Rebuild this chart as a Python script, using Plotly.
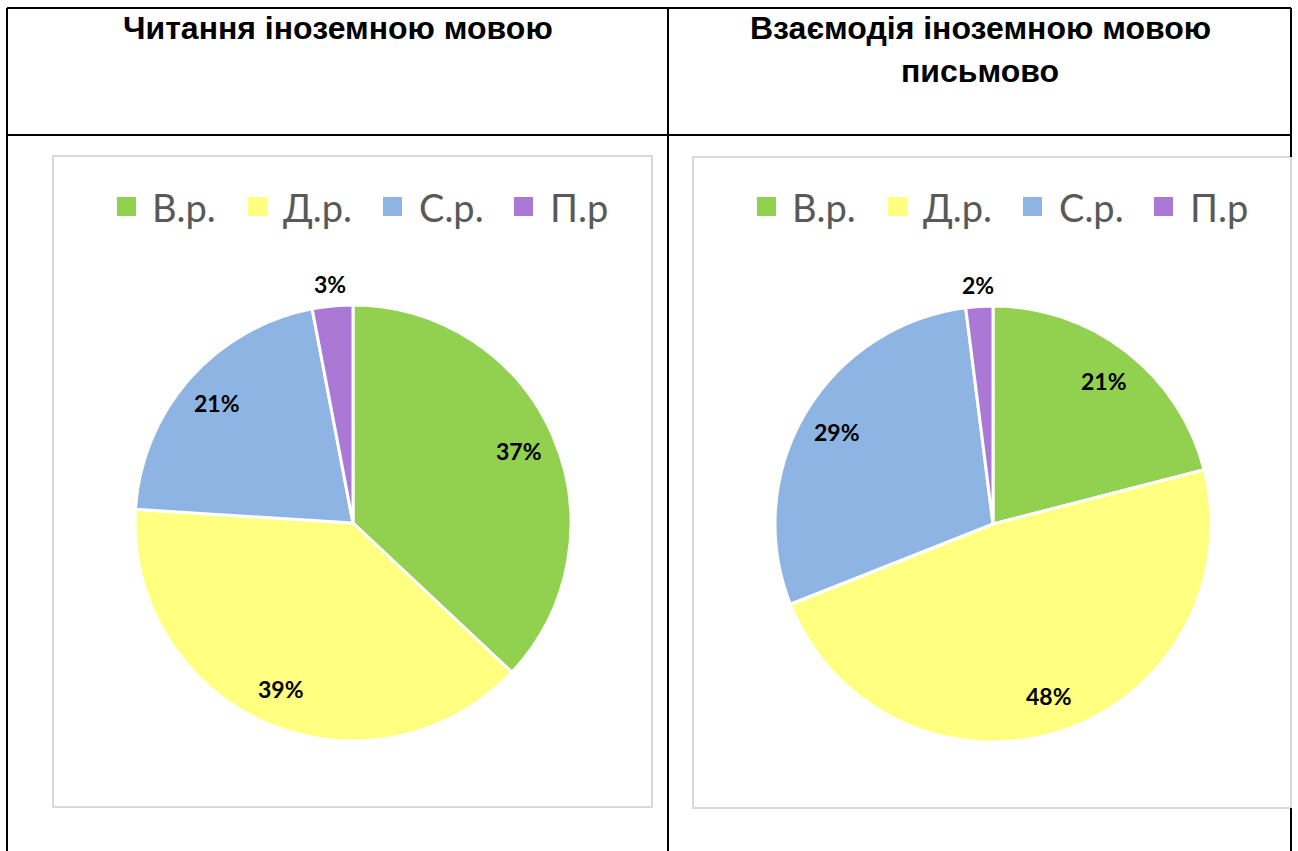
import math
import plotly.graph_objects as go

# ---- data ----
categories = ["В.р.", "Д.р.", "С.р.", "П.р"]
reading_values = [37, 39, 21, 3]
writing_values = [21, 48, 29, 2]
titles = [["Читання іноземною мовою"], ["Взаємодія іноземною мовою", "письмово"]]
colors = ["#92D050", "#FFFF80", "#8EB4E3", "#AB78D6"]

W, H = 1298, 851


def px(x):
    return x / W


def py(y):
    return 1 - y / H


fig = go.Figure()
shapes = []
annotations = []

# ---- table grid ----
line_black = dict(color="black", width=2)
for (x0, y0, x1, y1) in [(7, 8, 1291, 8), (7, 135, 1291, 135), (7, 8, 7, 851),
                         (668, 8, 668, 851), (1291, 8, 1291, 157), (1291, 808, 1291, 851)]:
    shapes.append(dict(type="line", xref="paper", yref="paper", x0=px(x0), y0=py(y0),
                       x1=px(x1), y1=py(y1), line=line_black, layer="above"))

# ---- chart panels ----
panels = [
    dict(box=(53, 156, 652, 807), center=(353, 523), r=218, title_x=338,
         legend_sq=[117, 248, 383, 514], legend_tx=[150, 281, 417, 548], values=reading_values),
    dict(box=(693, 157, 1291, 808), center=(993, 524), r=218, title_x=980,
         legend_sq=[757, 888, 1023, 1154], legend_tx=[790, 921, 1057, 1188], values=writing_values),
]

for i, p in enumerate(panels):
    x0, y0, x1, y1 = p["box"]
    shapes.append(dict(type="rect", xref="paper", yref="paper", x0=px(x0), y0=py(y0),
                       x1=px(x1), y1=py(y1), line=dict(color="#D9D9D9", width=2),
                       fillcolor="rgba(0,0,0,0)", layer="below"))
    # titles
    for j, t in enumerate(titles[i]):
        annotations.append(dict(text=f"<b>{t}</b>", xref="paper", yref="paper",
                                x=px(p["title_x"]), y=py(28 + 43 * j), xanchor="center",
                                yanchor="middle", showarrow=False,
                                font=dict(family="Liberation Sans, Arial", size=32, color="black")))
    # pie
    cx, cy, r = p["center"][0], p["center"][1], p["r"]
    fig.add_trace(go.Pie(
        labels=categories, values=p["values"], sort=False, direction="clockwise",
        rotation=0, textinfo="none", hoverinfo="label+percent",
        marker=dict(colors=colors, line=dict(color="white", width=3)),
        domain=dict(x=[px(cx - r), px(cx + r)], y=[py(cy + r), py(cy - r)]),
        showlegend=False,
    ))
    # data labels, placed along each slice's mid-angle
    total = sum(p["values"])
    cum = 0
    for v in p["values"]:
        frac = (cum + v / 2) / total
        cum += v
        ang = math.radians(90 - frac * 360)
        k = 1.1 if v / total < 0.05 else 0.83
        lx = cx + k * r * math.cos(ang)
        ly = cy - k * r * math.sin(ang)
        annotations.append(dict(text=f"<b>{round(v / total * 100)}%</b>", xref="paper",
                                yref="paper", x=px(lx), y=py(ly), xanchor="center",
                                yanchor="middle", showarrow=False,
                                font=dict(family="Lato, Carlito, sans-serif", size=23, color="black")))
    # legend
    for c, lab, sx, tx in zip(colors, categories, p["legend_sq"], p["legend_tx"]):
        shapes.append(dict(type="rect", xref="paper", yref="paper", x0=px(sx), x1=px(sx + 19),
                           y0=py(216), y1=py(197), fillcolor=c, line=dict(width=0)))
        annotations.append(dict(text=lab, xref="paper", yref="paper", x=px(tx), y=py(207),
                                xanchor="left", yanchor="middle", showarrow=False,
                                font=dict(family="Lato, Carlito, sans-serif", size=38, color="#595959")))

fig.update_layout(
    width=W, height=H, margin=dict(l=0, r=0, t=0, b=0),
    paper_bgcolor="white", plot_bgcolor="white",
    shapes=shapes, annotations=annotations, showlegend=False,
)

fig.write_html("out.html", config={"displayModeBar": False},
               post_script="document.body.style.margin='0';document.body.style.overflow='hidden';")
